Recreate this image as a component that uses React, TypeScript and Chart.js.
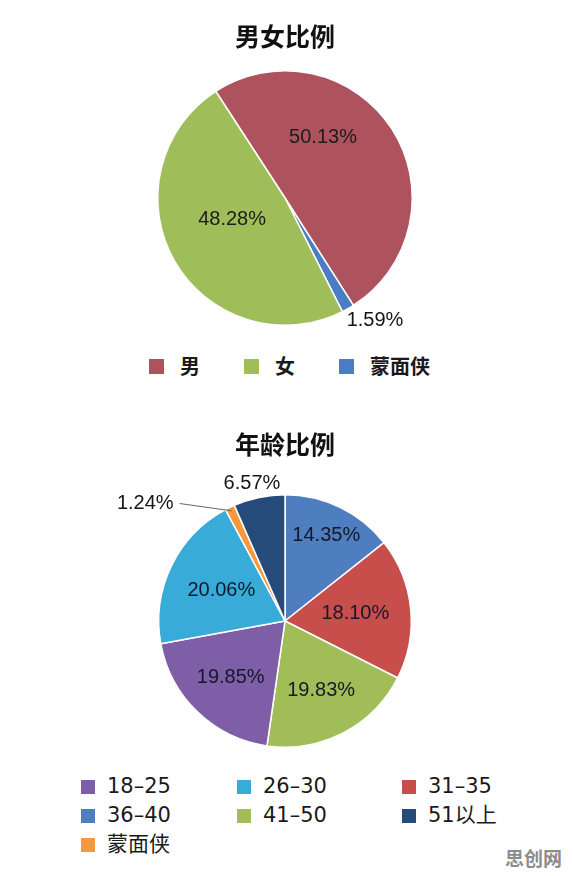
import React, { useEffect, useRef } from 'react';
import { Chart, registerables } from 'chart.js';

Chart.register(...registerables);

// ---------- data ----------
const genderTitle = '男女比例';
const genderCategories = ['男', '蒙面侠', '女']; // clockwise drawing order
const genderValues = [50.13, 1.59, 48.28];
const genderColors = ['#AE525E', '#4A7DC6', '#9FBE59'];
const genderLegendOrder = ['男', '女', '蒙面侠'];

const ageTitle = '年龄比例';
const ageCategories = ['36–40', '31–35', '41–50', '18–25', '26–30', '蒙面侠', '51以上']; // clockwise
const ageValues = [14.35, 18.1, 19.83, 19.85, 20.06, 1.24, 6.57];
const ageColors = ['#4F7EC0', '#C74E4B', '#A0BD57', '#7E5EA6', '#39ABD8', '#F5993F', '#244B79'];
const ageLegendOrder = ['18–25', '26–30', '31–35', '36–40', '41–50', '51以上', '蒙面侠'];

const CJK = '"Noto Sans CJK SC", "Noto Sans", sans-serif';

// ---------- label plugin ----------
const sliceLabelPlugin = {
  id: 'sliceLabels',
  afterDatasetsDraw(chart: any, _args: any, opts: any) {
    const { ctx } = chart;
    const meta = chart.getDatasetMeta(0);
    const values = chart.data.datasets[0].data as number[];
    const place = opts.place || [];
    ctx.save();
    ctx.font = opts.font;
    meta.data.forEach((arc: any, i: number) => {
      const p = arc.getProps(['x', 'y', 'startAngle', 'endAngle', 'outerRadius'], true);
      const cfg = place[i] || {};
      const mid = (p.startAngle + p.endAngle) / 2;
      const a = mid + ((cfg.da || 0) * Math.PI) / 180;
      const r = p.outerRadius * (cfg.fr ?? 0.6);
      const px = p.x + Math.cos(a) * r;
      const py = p.y + Math.sin(a) * r;
      const text = values[i].toFixed(2) + '%';
      if (cfg.leader) {
        ctx.strokeStyle = opts.leaderColor;
        ctx.lineWidth = 1;
        ctx.beginPath();
        ctx.moveTo(px, py);
        ctx.lineTo(p.x + Math.cos(mid) * p.outerRadius * 0.97, p.y + Math.sin(mid) * p.outerRadius * 0.97);
        ctx.stroke();
      }
      ctx.fillStyle = cfg.fr > 1 ? opts.outsideColor : opts.insideColor;
      ctx.textAlign = cfg.align || 'center';
      ctx.textBaseline = 'middle';
      ctx.fillText(text, px + (cfg.leader ? -6 : 0), py);
    });
    ctx.restore();
  },
};

function PieChart(props: {
  title: string;
  labels: string[];
  values: number[];
  colors: string[];
  rotation: number;
  width: number;
  height: number;
  padding: { left: number; right: number; top: number; bottom: number };
  titlePad: { top: number; bottom: number };
  place: any[];
  insideColor: string;
  style: React.CSSProperties;
}) {
  const ref = useRef<HTMLCanvasElement | null>(null);
  useEffect(() => {
    if (!ref.current) return;
    const chart = new Chart(ref.current, {
      type: 'pie',
      data: {
        labels: props.labels,
        datasets: [
          {
            data: props.values,
            backgroundColor: props.colors,
            borderColor: '#ffffff',
            borderWidth: 1.5,
          },
        ],
      },
      options: {
        responsive: false,
        animation: false,
        devicePixelRatio: 1,
        rotation: props.rotation,
        layout: { padding: props.padding },
        plugins: {
          legend: { display: false },
          tooltip: { enabled: false },
          title: {
            display: true,
            text: props.title,
            color: '#111111',
            font: { family: CJK, size: 25, weight: 'bold', lineHeight: 1.2 },
            padding: props.titlePad,
          },
          sliceLabels: {
            font: '20px "Liberation Sans", Arial, sans-serif',
            insideColor: props.insideColor,
            outsideColor: '#151515',
            leaderColor: '#666666',
            place: props.place,
          },
        } as any,
      },
      plugins: [sliceLabelPlugin as any],
    });
    return () => chart.destroy();
  }, []);
  return (
    <canvas
      ref={ref}
      width={props.width}
      height={props.height}
      style={{ position: 'absolute', display: 'block', ...props.style }}
    />
  );
}

function colorOf(cats: string[], colors: string[], name: string) {
  return colors[cats.indexOf(name)];
}

export default function App() {
  return (
    <div
      style={{
        position: 'absolute',
        left: 0,
        top: 0,
        width: 573,
        height: 876,
        overflow: 'hidden',
        background: '#ffffff',
      }}
    >
      <PieChart
        title={genderTitle}
        labels={genderCategories}
        values={genderValues}
        colors={genderColors}
        rotation={-33}
        width={573}
        height={340}
        padding={{ left: 157, right: 160, top: 0, bottom: 14 }}
        titlePad={{ top: 21, bottom: 19 }}
        place={[
          { fr: 0.56, da: -25 },
          { fr: 1.08, da: 3, align: 'left' },
          { fr: 0.45, da: 7.4 },
        ]}
        insideColor="#1c1c1c"
        style={{ left: 0, top: 0 }}
      />
      {/* legend 1 */}
      <div
        style={{
          position: 'absolute',
          left: 149,
          top: 354,
          height: 24,
          display: 'flex',
          alignItems: 'center',
          fontFamily: CJK,
          fontSize: 20,
          fontWeight: 'bold',
          color: '#1a1a1a',
        }}
      >
        {genderLegendOrder.map((name) => (
          <div key={name} style={{ display: 'flex', alignItems: 'center', marginRight: 44 }}>
            <span
              style={{
                display: 'inline-block',
                width: 15,
                height: 15,
                background: colorOf(genderCategories, genderColors, name),
                marginRight: 16,
              }}
            />
            <span style={{ lineHeight: '24px' }}>{name}</span>
          </div>
        ))}
      </div>

      <PieChart
        title={ageTitle}
        labels={ageCategories}
        values={ageValues}
        colors={ageColors}
        rotation={0}
        width={573}
        height={370}
        padding={{ left: 158, right: 161, top: 0, bottom: 22 }}
        titlePad={{ top: 29, bottom: 35 }}
        place={[
          { fr: 0.75 },
          { fr: 0.56 },
          { fr: 0.62 },
          { fr: 0.62 },
          { fr: 0.56 },
          { fr: 1.25, da: -16, align: 'right', leader: true },
          { fr: 1.12, da: -1.7 },
        ]}
        insideColor="#15182a"
        style={{ left: 0, top: 400 }}
      />
      {/* legend 2 */}
      <div
        style={{
          position: 'absolute',
          left: 81,
          top: 772,
          display: 'grid',
          gridTemplateColumns: '156px 165px 140px',
          gridAutoRows: '29px',
          fontFamily: '"DejaVu Sans", ' + CJK,
          fontSize: 21,
          color: '#1a1a1a',
        }}
      >
        {ageLegendOrder.map((name) => (
          <div key={name} style={{ display: 'flex', alignItems: 'center', height: 29 }}>
            <span
              style={{
                display: 'inline-block',
                width: 14,
                height: 14,
                background: colorOf(ageCategories, ageColors, name),
                marginRight: 12,
              }}
            />
            <span style={{ lineHeight: '29px', whiteSpace: 'nowrap' }}>{name}</span>
          </div>
        ))}
      </div>

      <div
        style={{
          position: 'absolute',
          left: 505,
          top: 846,
          fontFamily: CJK,
          fontWeight: 'bold',
          fontSize: 19,
          color: '#8c8c8c',
          whiteSpace: 'nowrap',
          lineHeight: '24px',
        }}
      >
        思创网
      </div>
    </div>
  );
}
